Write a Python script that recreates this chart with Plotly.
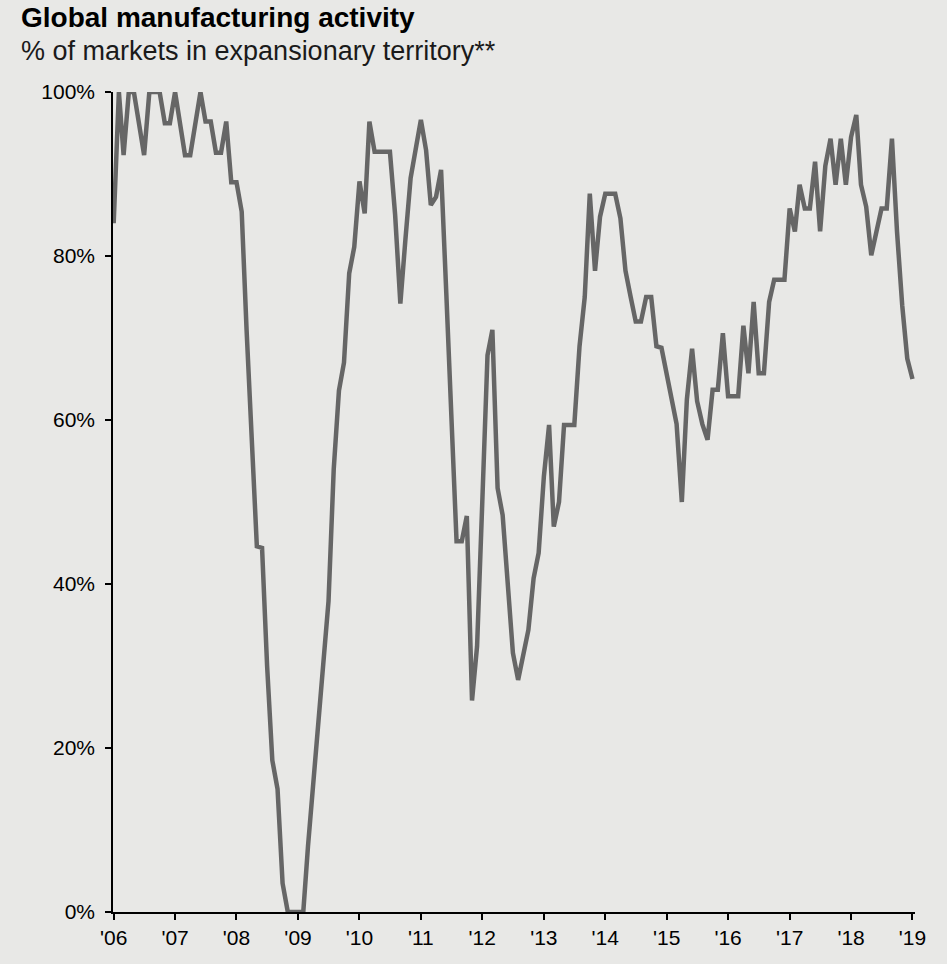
import pandas as pd
import plotly.graph_objects as go

# Monthly share of markets with manufacturing PMI above 50, Jan 2006 - Jan 2019
start_month = "2006-01-01"
pct_expansion = [
    84, 100, 92.3, 100, 100, 96, 92.3, 100, 100, 100, 96.2, 96.2,          # 2006
    100, 96, 92.3, 92.3, 96, 100, 96.4, 96.4, 92.6, 92.6, 96.4, 89,        # 2007
    89, 85.4, 71, 58, 44.6, 44.4, 30, 18.5, 15, 3.5, 0, 0,                 # 2008
    0, 0, 8, 15.5, 23, 30.5, 37.9, 54, 63.6, 67, 77.9, 81.1,               # 2009
    89.1, 85.2, 96.4, 92.7, 92.7, 92.7, 92.7, 85, 74.2, 82, 89.5, 93,      # 2010
    96.6, 92.9, 86.2, 87.2, 90.5, 75.5, 60.5, 45.2, 45.2, 48.3, 25.8, 32.4, # 2011
    50, 67.9, 71, 51.7, 48.4, 39.5, 31.6, 28.3, 31.5, 34.4, 40.7, 43.8,    # 2012
    53.1, 59.4, 47, 50, 59.4, 59.4, 59.4, 69, 75, 87.6, 78.2, 84.8,        # 2013
    87.6, 87.6, 87.6, 84.6, 78.2, 75, 72, 72, 75, 75, 69, 68.8,            # 2014
    65.4, 62.5, 59.5, 50, 62.5, 68.7, 62.3, 59.5, 57.6, 63.7, 63.7, 70.6,  # 2015
    62.9, 62.9, 62.9, 71.5, 65.7, 74.4, 65.7, 65.7, 74.4, 77.1, 77.1, 77.1, # 2016
    85.8, 83, 88.7, 85.8, 85.8, 91.5, 83, 91, 94.3, 88.7, 94.3, 88.7,      # 2017
    94.5, 97.2, 88.7, 86, 80.1, 83, 85.8, 85.8, 94.3, 83, 74, 67.5,        # 2018
    65,                                                                    # 2019
]
months = pd.date_range(start_month, periods=len(pct_expansion), freq="MS")

year_ticks = pd.date_range("2006-01-01", "2019-01-01", freq="YS")
year_labels = ["'06", "'07", "'08", "'09", "'10", "'11", "'12",
               "'13", "'14", "'15", "'16", "'17", "'18", "'19"]
pct_ticks = [0, 20, 40, 60, 80, 100]
pct_labels = ["0%", "20%", "40%", "60%", "80%", "100%"]

BG = "#e8e8e6"
FONT = "Arial, Liberation Sans, sans-serif"

fig = go.Figure(
    go.Scatter(
        x=months,
        y=pct_expansion,
        mode="lines",
        line=dict(color="#666666", width=4.5),
        hoverinfo="skip",
    )
)

fig.update_layout(
    width=947,
    height=964,
    margin=dict(l=113, r=32, t=92, b=52),
    paper_bgcolor=BG,
    plot_bgcolor=BG,
    showlegend=False,
    font=dict(family=FONT, color="#000000"),
    annotations=[
        dict(
            text="<b>Global manufacturing activity</b>",
            xref="paper", yref="paper",
            x=(19 - 113) / 802, y=(912 - 18) / 820,
            xanchor="left", yanchor="middle",
            showarrow=False,
            font=dict(size=28, family=FONT, color="#000000"),
        ),
        dict(
            text="% of markets in expansionary territory**",
            xref="paper", yref="paper",
            x=(19 - 113) / 802, y=(912 - 51) / 820,
            xanchor="left", yanchor="middle",
            showarrow=False,
            font=dict(size=27, family=FONT, color="#1a1a1a"),
        ),
    ],
)

fig.update_xaxes(
    type="date",
    range=["2005-12-28", "2019-01-16"],
    tickvals=year_ticks,
    ticktext=year_labels,
    ticks="outside",
    ticklen=6,
    tickwidth=1.5,
    tickcolor="#000000",
    showline=True,
    linecolor="#000000",
    linewidth=1.5,
    showgrid=False,
    zeroline=False,
    tickfont=dict(size=21, family=FONT, color="#000000"),
)

fig.update_yaxes(
    range=[0, 100],
    tickvals=pct_ticks,
    ticktext=pct_labels,
    ticks="outside",
    ticklen=6,
    tickwidth=1.5,
    tickcolor="#000000",
    showline=True,
    linecolor="#000000",
    linewidth=1.5,
    showgrid=False,
    zeroline=False,
    ticklabelstandoff=6,
    tickfont=dict(size=21, family=FONT, color="#000000"),
)

fig.write_html("out.html")
